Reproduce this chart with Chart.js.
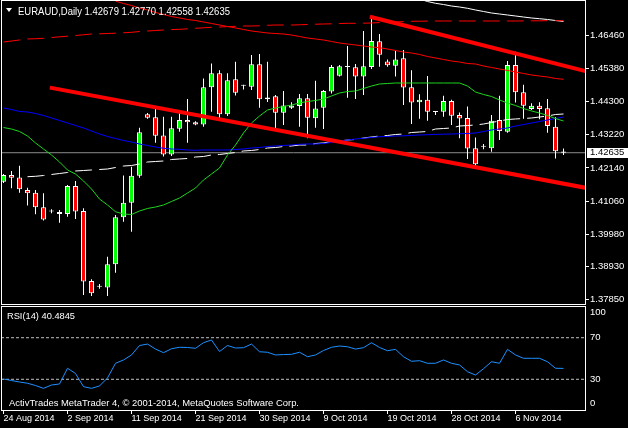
<!DOCTYPE html>
<html>
<head>
<meta charset="utf-8">
<script src="https://cdn.jsdelivr.net/npm/chart.js@4.4.1/dist/chart.umd.min.js"></script>
<style>
  html, body { margin: 0; padding: 0; background: #000; }
  #wrap { position: relative; width: 628px; height: 428px; overflow: hidden; background: #000; }
  canvas { position: absolute; left: 0; }
  .txt { position: absolute; color: #fff; font-family: 'Liberation Sans', Arial, sans-serif;
         white-space: nowrap; transform-origin: 0 0; }
  #arrow { position: absolute; left: 6px; top: 8px; width: 0; height: 0;
           border-left: 3px solid transparent; border-right: 3px solid transparent; border-top: 4px solid #fff; }
</style>
</head>
<body>
<div id="wrap">
  <canvas id="main" width="628" height="305" style="top:0"></canvas>
  <canvas id="rsi" width="628" height="123" style="top:305px"></canvas>
  <div id="arrow"></div>
  <div id="header" class="txt" style="left:18px; top:5px; font-size:10.5px; line-height:12px"></div>
  <div id="rsiTitle" class="txt" style="left:7px; top:309.5px; font-size:9.5px; line-height:11px"></div>
  <div id="copyright" class="txt" style="left:8.5px; top:397.2px; font-size:9.5px; line-height:11px"></div>
</div>
<script>
// EURAUD Daily, 24 Aug - 13 Nov 2014 (one bar per trading day, Sunday bars included)
const symbolName = 'EURAUD';
const timeframeName = 'Daily';
const copyrightText = 'ActivTrades MetaTrader 4, \u00a9 2001-2014, MetaQuotes Software Corp.';

const candleOpen = [
  1.4169, 1.4191, 1.4183, 1.4142, 1.4133, 1.4086, 1.4072, 1.4070, 1.4064, 1.4155,
  1.4073, 1.3845, 1.3826, 1.3824, 1.3900, 1.4053, 1.4100, 1.4188, 1.4389, 1.4379,
  1.4320, 1.4258, 1.4342, 1.4370, 1.4363, 1.4356, 1.4477, 1.4523, 1.4389, 1.4503,
  1.4482, 1.4479, 1.4552, 1.4438, 1.4448, 1.4394, 1.4410, 1.4416, 1.4441, 1.4376,
  1.4410, 1.4463, 1.4515, 1.4543, 1.4542, 1.4512, 1.4543, 1.4627, 1.4561, 1.4547,
  1.4572, 1.4477, 1.4428, 1.4436, 1.4397, 1.4397, 1.4432, 1.4387, 1.4377, 1.4278,
  1.4283, 1.4278, 1.4370, 1.4332, 1.4550, 1.4461, 1.4406, 1.4417, 1.4409, 1.4348, 1.42679
];
const candleHigh = [
  1.4194, 1.4204, 1.4221, 1.4149, 1.4142, 1.4131, 1.4079, 1.4077, 1.4158, 1.4171,
  1.4082, 1.3851, 1.3835, 1.3924, 1.4060, 1.4189, 1.4218, 1.4345, 1.4393, 1.4416,
  1.4381, 1.4381, 1.4403, 1.4439, 1.4366, 1.4506, 1.4555, 1.4533, 1.4523, 1.4560,
  1.4485, 1.4582, 1.4586, 1.4560, 1.4452, 1.4465, 1.4428, 1.4455, 1.4455, 1.4498,
  1.4468, 1.4550, 1.4550, 1.4612, 1.4553, 1.4661, 1.4702, 1.4651, 1.4568, 1.4596,
  1.4599, 1.4533, 1.4454, 1.4514, 1.4400, 1.4449, 1.4436, 1.4395, 1.4414, 1.4313,
  1.4292, 1.4387, 1.4449, 1.4563, 1.4593, 1.4485, 1.4425, 1.4428, 1.4439, 1.4379, 1.42770
];
const candleLow = [
  1.4165, 1.4148, 1.4133, 1.4091, 1.4063, 1.4042, 1.4066, 1.4035, 1.4055, 1.4047,
  1.3799, 1.3796, 1.3820, 1.3796, 1.3872, 1.4038, 1.4006, 1.4182, 1.4374, 1.4296,
  1.4251, 1.4253, 1.4332, 1.4296, 1.4353, 1.4348, 1.4397, 1.4376, 1.4383, 1.4450,
  1.4470, 1.4468, 1.4410, 1.4429, 1.4341, 1.4354, 1.4406, 1.4348, 1.4311, 1.4345,
  1.4341, 1.4457, 1.4512, 1.4443, 1.4439, 1.4452, 1.4537, 1.4544, 1.4544, 1.4512,
  1.4419, 1.4357, 1.4374, 1.4368, 1.4387, 1.4381, 1.4354, 1.4311, 1.4243, 1.4213,
  1.4275, 1.4267, 1.4305, 1.4329, 1.4427, 1.4374, 1.4403, 1.4373, 1.4329, 1.4245, 1.42558
];
const candleClose = [
  1.4191, 1.4182, 1.4144, 1.4131, 1.4086, 1.4046, 1.4072, 1.4064, 1.4155, 1.4072,
  1.3843, 1.3805, 1.3826, 1.3900, 1.4053, 1.4100, 1.4188, 1.4330, 1.4378, 1.4319,
  1.4258, 1.4343, 1.4370, 1.4363, 1.4356, 1.4477, 1.4523, 1.4389, 1.4500, 1.4459,
  1.4482, 1.4552, 1.4438, 1.4444, 1.4394, 1.4418, 1.4418, 1.4441, 1.4378, 1.4408,
  1.4465, 1.4543, 1.4546, 1.4543, 1.4512, 1.4546, 1.4628, 1.4583, 1.4549, 1.4568,
  1.4476, 1.4427, 1.4436, 1.4397, 1.4396, 1.4432, 1.4384, 1.4375, 1.4277, 1.4226,
  1.4283, 1.4368, 1.4334, 1.4550, 1.4461, 1.4417, 1.4417, 1.4406, 1.4351, 1.4268, 1.42635
];

// moving averages (null = not visible)
const maGreen = [
  1.43458, 1.43409, 1.43328, 1.43181, 1.42953, 1.42757, 1.42561, 1.42333, 1.42072, 1.41941,
  1.41713, 1.41452, 1.41125, 1.40930, 1.40711, 1.40636, 1.40620, 1.40734, 1.40816, 1.40864,
  1.40930, 1.41044, 1.41158, 1.41321, 1.41484, 1.41745, 1.41941, 1.42137, 1.42561, 1.42887,
  1.43279, 1.43605, 1.43833, 1.44029, 1.44094, 1.44143, 1.44192, 1.44258, 1.44306, 1.44339,
  1.44388, 1.44486, 1.44584, 1.44633, 1.44649, 1.44731, 1.44812, 1.44877, 1.44894, 1.44910,
  1.44910, 1.44910, 1.44910, 1.44910, 1.44910, 1.44910, 1.44910, 1.44910, 1.44812, 1.44616,
  1.44535, 1.44470, 1.44355, 1.44258, 1.44176, 1.44078, 1.43997, 1.43931, 1.43850, 1.43752, 1.43670
];
const maBlue = [
  1.44094, 1.44045, 1.43980, 1.43964, 1.43915, 1.43850, 1.43768, 1.43687, 1.43605, 1.43523,
  1.43442, 1.43344, 1.43246, 1.43165, 1.43099, 1.43034, 1.42985, 1.42920, 1.42871, 1.42822,
  1.42780, 1.42757, 1.42747, 1.42724, 1.42714, 1.42724, 1.42724, 1.42724, 1.42724, 1.42740,
  1.42757, 1.42789, 1.42806, 1.42838, 1.42855, 1.42871, 1.42887, 1.42910, 1.42920, 1.42920,
  1.42936, 1.42969, 1.43018, 1.43050, 1.43083, 1.43106, 1.43132, 1.43158, 1.43165, 1.43181,
  1.43187, 1.43200, 1.43214, 1.43223, 1.43233, 1.43240, 1.43246, 1.43256, 1.43262, 1.43279,
  1.43328, 1.43377, 1.43409, 1.43442, 1.43507, 1.43556, 1.43605, 1.43654, 1.43703, 1.43752, 1.43801
];
const maWhiteDash = [
  null, null, null, 1.41853, 1.41866, 1.41892, 1.41925, 1.41957, 1.41990, 1.42039,
  1.42055, 1.42072, 1.42088, 1.42104, 1.42153, 1.42202, 1.42218, 1.42267, 1.42333, 1.42349,
  1.42365, 1.42414, 1.42431, 1.42447, 1.42496, 1.42512, 1.42561, 1.42577, 1.42610, 1.42643,
  1.42692, 1.42708, 1.42740, 1.42789, 1.42806, 1.42838, 1.42855, 1.42887, 1.42887, 1.42936,
  1.42953, 1.43001, 1.43018, 1.43050, 1.43067, 1.43116, 1.43148, 1.43181, 1.43197, 1.43230,
  1.43246, 1.43295, 1.43311, 1.43328, 1.43409, 1.43426, 1.43442, 1.43507, 1.43523, 1.43540,
  1.43572, 1.43621, 1.43670, 1.43719, 1.43736, 1.43752, 1.43768, 1.43801, 1.43833, 1.43882, 1.43899
];
const maRedThin = [
  null, null, null, null, null, null, null, null, null, null,
  null, null, null, null, 1.47580, 1.47504, 1.47439, 1.47357, 1.47292, 1.47210,
  1.47145, 1.47080, 1.47031, 1.46982, 1.46949, 1.46900, 1.46851, 1.46802, 1.46753, 1.46705,
  1.46656, 1.46607, 1.46574, 1.46541, 1.46525, 1.46509, 1.46476, 1.46427, 1.46378, 1.46346,
  1.46313, 1.46264, 1.46215, 1.46182, 1.46150, 1.46117, 1.46085, 1.46062, 1.46019, 1.45970,
  1.45921, 1.45889, 1.45840, 1.45775, 1.45726, 1.45677, 1.45628, 1.45595, 1.45546, 1.45530,
  1.45465, 1.45416, 1.45367, 1.45318, 1.45269, 1.45220, 1.45171, 1.45138, 1.45106, 1.45057, 1.45031
];
const maRedDash = [
  1.46248, 1.46280, 1.46313, 1.46346, 1.46355, 1.46368, 1.46395, 1.46417, 1.46437, 1.46460,
  1.46483, 1.46509, 1.46515, 1.46525, 1.46535, 1.46548, 1.46564, 1.46590, 1.46607, 1.46623,
  1.46639, 1.46652, 1.46662, 1.46678, 1.46695, 1.46711, 1.46727, 1.46737, 1.46750, 1.46760,
  1.46770, 1.46770, 1.46776, 1.46793, 1.46802, 1.46802, 1.46802, 1.46809, 1.46819, 1.46828,
  1.46835, 1.46841, 1.46851, 1.46858, 1.46858, 1.46861, 1.46868, 1.46881, 1.46894, 1.46903,
  1.46913, 1.46923, 1.46926, 1.46930, 1.46933, 1.46933, 1.46933, 1.46933, 1.46933, 1.46933,
  1.46933, 1.46933, 1.46933, 1.46933, 1.46933, 1.46936, 1.46939, 1.46939, 1.46943, 1.46943, 1.46943
];
const maWhiteTop = [
  null, null, null, null, null, null, null, null, null, null,
  null, null, null, null, null, null, null, null, null, null,
  null, null, null, null, null, null, null, null, null, null,
  null, null, null, null, null, null, null, null, null, null,
  null, null, null, null, null, null, null, null, null, null,
  null, 1.47716, 1.47651, 1.47569, 1.47510, 1.47471, 1.47422, 1.47390, 1.47347, 1.47292,
  1.47243, 1.47194, 1.47161, 1.47129, 1.47096, 1.47063, 1.47031, 1.47008, 1.46982, 1.46949, 1.46917
];

// hand drawn trend lines (bar index, price)
const trendUpperX = [45.8, 73];
const trendUpperY = [1.4707, 1.4528];
const trendLowerX = [5.8, 73];
const trendLowerY = [1.4476, 1.4148];

// RSI(14)
const rsiValues = [
  30.3, 28.8, 27.4, 26.2, 24.0, 21.3, 24.5, 25.5, 40.6, 35.6,
  22.9, 21.3, 23.6, 31.3, 45.4, 48.6, 53.4, 62.5, 63.9, 59.1,
  55.6, 59.4, 60.8, 60.6, 59.8, 65.2, 67.8, 56.7, 62.5, 60.1,
  60.4, 63.9, 56.5, 56.0, 53.4, 53.8, 54.0, 56.0, 51.7, 53.4,
  57.7, 60.8, 62.0, 61.3, 59.1, 60.4, 65.2, 60.6, 57.5, 58.8,
  51.7, 47.3, 47.9, 45.4, 45.4, 48.6, 45.4, 43.8, 37.3, 34.1,
  40.2, 46.9, 45.4, 58.8, 53.4, 50.2, 50.2, 50.2, 46.9, 40.6, 40.4845
];
const rsiLevels = [70, 30];

// axis ticks
const priceTicks = [1.4646, 1.4538, 1.4430, 1.4322, 1.4214, 1.4106, 1.3998, 1.3893, 1.3785];
const dateTickIndex = [0, 8, 16, 24, 32, 40, 48, 56, 64];
const dateTickLabels = ['24 Aug 2014', '2 Sep 2014', '11 Sep 2014', '21 Sep 2014', '30 Sep 2014',
                        '9 Oct 2014', '19 Oct 2014', '28 Oct 2014', '6 Nov 2014'];
const rsiLabelAt = [94, 70, 30, 7];
const rsiLabelText = ['100', '70', '30', '0'];

// visible ranges (8 px per bar)
const X_MIN = -0.3125, X_MAX = 72.8125;
const PRICE_MIN = 1.37667, PRICE_MAX = 1.47618;
const FONT = "'Liberation Sans', Arial, sans-serif";

const last = candleClose.length - 1;
const lastClose = candleClose[last];

function series(values) {
  return values.map((v, i) => ({ x: i, y: v }));
}

function lineSet(data, color, width, dash, order) {
  return {
    type: 'line', data: data, borderColor: color, borderWidth: width, borderDash: dash || [],
    pointRadius: 0, tension: 0, fill: false, spanGaps: false, order: order
  };
}

// keep the plot area exactly where the layout padding puts it
function fixWidth(s) {
  s.width = 42;
  s.paddingTop = 0; s.paddingBottom = 0; s.paddingLeft = 0; s.paddingRight = 0;
}
function fixHeight(h) {
  return function (s) {
    s.height = h;
    s.paddingTop = 0; s.paddingBottom = 0; s.paddingLeft = 0; s.paddingRight = 0;
  };
}

// white frame around each panel
const framePlugin = {
  id: 'frame',
  afterDatasetsDraw(chart) {
    const a = chart.chartArea, ctx = chart.ctx;
    ctx.save();
    ctx.strokeStyle = '#ffffff';
    ctx.lineWidth = 1;
    ctx.strokeRect(a.left + 0.5, a.top + 0.5, a.right - a.left - 1, a.bottom - a.top - 1);
    ctx.restore();
  }
};

// current price box on the price scale
const bidPlugin = {
  id: 'bidBox',
  afterDraw(chart) {
    const ctx = chart.ctx;
    const y = chart.scales.y.getPixelForValue(lastClose);
    ctx.save();
    ctx.fillStyle = '#ffffff';
    ctx.fillRect(587, Math.round(y) - 5, 41, 10);
    ctx.fillStyle = '#000000';
    ctx.font = '9.5px ' + FONT;
    ctx.textBaseline = 'middle';
    ctx.fillText(lastClose.toFixed(5), 590, y);
    ctx.restore();
  }
};

const bodies = candleOpen.map((o, i) => ({ x: i, y: [o, candleClose[i]] }));
const wicks = candleLow.map((l, i) => ({ x: i, y: [l, candleHigh[i]] }));
const bodyColors = candleOpen.map((o, i) =>
  candleClose[i] > o ? '#00ff00' : (candleClose[i] < o ? '#ff0000' : '#ffffff'));

const common = {
  responsive: false,
  animation: false,
  devicePixelRatio: 1,
  events: [],
  plugins: { legend: { display: false }, tooltip: { enabled: false } }
};

new Chart(document.getElementById('main'), {
  type: 'bar',
  data: {
    datasets: [
      lineSet([{ x: trendUpperX[0], y: trendUpperY[0] }, { x: trendUpperX[1], y: trendUpperY[1] }], '#ff0000', 4, null, 0),
      lineSet([{ x: trendLowerX[0], y: trendLowerY[0] }, { x: trendLowerX[1], y: trendLowerY[1] }], '#ff0000', 4, null, 0),
      lineSet(series(maGreen), '#1ed41e', 1, null, 1),
      lineSet(series(maBlue), '#0000ff', 1, null, 1),
      lineSet(series(maWhiteDash), '#ffffff', 1, [17, 7], 1),
      lineSet(series(maRedThin), '#ff0000', 1, null, 1),
      lineSet(series(maRedDash), '#ff0000', 1, [17, 7], 1),
      lineSet(series(maWhiteTop), '#ffffff', 1, null, 1),
      {
        type: 'bar', data: bodies, backgroundColor: bodyColors, borderColor: '#ffffff',
        borderWidth: 1, borderSkipped: false, barThickness: 5, grouped: false,
        minBarLength: 1, inflateAmount: 0, order: 2
      },
      {
        type: 'bar', data: wicks, backgroundColor: '#ffffff', borderWidth: 0,
        barThickness: 1, grouped: false, inflateAmount: 0, order: 3
      },
      lineSet([{ x: X_MIN, y: lastClose }, { x: X_MAX, y: lastClose }], '#8c8c8c', 1, null, 4)
    ]
  },
  options: Object.assign({}, common, {
    layout: { autoPadding: false, padding: { left: 1, top: 0, right: 0, bottom: 0 } },
    scales: {
      x: { type: 'linear', min: X_MIN, max: X_MAX, offset: false, display: false, afterFit: fixHeight(0) },
      y: {
        type: 'linear', position: 'right', min: PRICE_MIN, max: PRICE_MAX,
        afterFit: fixWidth,
        afterBuildTicks(s) { s.ticks = priceTicks.map(v => ({ value: v })); },
        ticks: {
          color: '#ffffff', font: { family: FONT, size: 9.5 }, padding: 1, autoSkip: false,
          callback: v => v.toFixed(5)
        },
        grid: { drawOnChartArea: false, drawTicks: true, tickLength: 3, color: '#ffffff' },
        border: { display: false }
      }
    }
  }),
  plugins: [framePlugin, bidPlugin]
});

new Chart(document.getElementById('rsi'), {
  type: 'line',
  data: {
    datasets: [
      lineSet(series(rsiValues), '#1e90ff', 1, null, 0),
      lineSet([{ x: X_MIN, y: rsiLevels[0] }, { x: X_MAX, y: rsiLevels[0] }], '#c0c0c0', 1, [3, 2], 1),
      lineSet([{ x: X_MIN, y: rsiLevels[1] }, { x: X_MAX, y: rsiLevels[1] }], '#c0c0c0', 1, [3, 2], 1)
    ]
  },
  options: Object.assign({}, common, {
    layout: { autoPadding: false, padding: { left: 1, top: 1, right: 0, bottom: 0 } },
    scales: {
      x: {
        type: 'linear', min: X_MIN, max: X_MAX, offset: false,
        afterFit: fixHeight(17),
        afterBuildTicks(s) { s.ticks = dateTickIndex.map(v => ({ value: v })); },
        ticks: {
          color: '#ffffff', font: { family: FONT, size: 9, lineHeight: 1 }, align: 'start',
          padding: 0, maxRotation: 0, autoSkip: false,
          callback: v => dateTickLabels[dateTickIndex.indexOf(v)]
        },
        grid: { drawOnChartArea: false, drawTicks: true, tickLength: 3, color: '#ffffff' },
        border: { display: false }
      },
      y: {
        type: 'linear', position: 'right', min: -0.5, max: 100.5,
        afterFit: fixWidth,
        afterBuildTicks(s) { s.ticks = rsiLabelAt.map(v => ({ value: v })); },
        ticks: {
          color: '#ffffff', font: { family: FONT, size: 9.5 }, padding: 4, autoSkip: false,
          callback: v => rsiLabelText[rsiLabelAt.indexOf(v)]
        },
        grid: { drawOnChartArea: false, drawTicks: false },
        border: { display: false }
      }
    }
  }),
  plugins: [framePlugin]
});

// text overlays
document.getElementById('header').textContent = symbolName + ',' + timeframeName + ' ' +
  [candleOpen[last], candleHigh[last], candleLow[last], candleClose[last]].map(v => v.toFixed(5)).join(' ');
document.getElementById('rsiTitle').textContent = 'RSI(14) ' + rsiValues[last].toFixed(4);
document.getElementById('copyright').textContent = copyrightText;

function fitWidth(id, width) {
  const el = document.getElementById(id);
  el.style.transform = 'none';
  const w = el.getBoundingClientRect().width;
  if (w > 0) el.style.transform = 'scaleX(' + (width / w) + ')';
}
function fitAll() {
  fitWidth('header', 212);
  fitWidth('rsiTitle', 68);
  fitWidth('copyright', 290);
}
fitAll();
if (document.fonts) document.fonts.ready.then(fitAll);
</script>
</body>
</html>
